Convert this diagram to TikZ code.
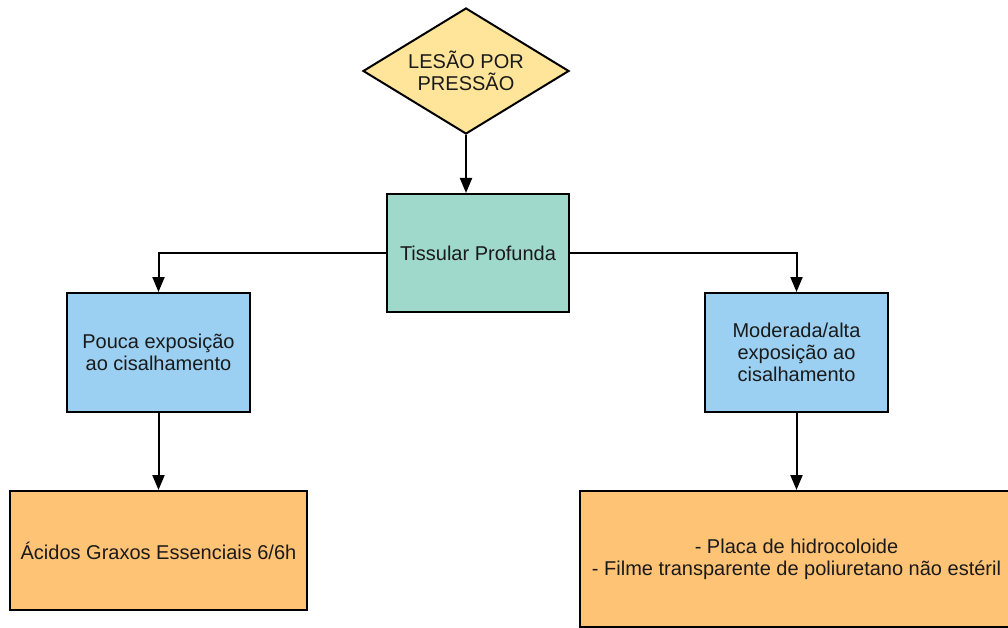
\documentclass[tikz,border=0pt]{standalone}
\usepackage{fontspec}
\setmainfont{Liberation Sans}
\usetikzlibrary{shapes.geometric,arrows.meta}

\definecolor{lesao}{HTML}{FFE599}
\definecolor{tissular}{HTML}{9ED9CB}
\definecolor{exposicao}{HTML}{9BD0F2}
\definecolor{conduta}{HTML}{FFC376}
\definecolor{texto}{HTML}{1A1A1A}

\begin{document}
\begin{tikzpicture}[x=1pt, y=1pt, line width=2pt, >={Triangle[length=15pt,width=12pt]},
    main/.style = {draw, rectangle, inner sep=0pt, align=center, text=texto, font=\fontsize{20}{22}\selectfont}]
      \clip (0,0) rectangle (1008,-628);
      \node[main, diamond, fill=lesao, minimum width=206pt, minimum height=126pt, aspect=1.63] (1) at (466,-71) {LESÃO POR\\PRESSÃO};
      \node[main, fill=tissular, minimum width=182pt, minimum height=118pt] (2) [node distance=182pt, below of=1, xshift=12pt] {Tissular Profunda};
      \node[main, fill=exposicao, minimum width=183pt, minimum height=119pt] (3) [node distance=99.5pt, below of=2, xshift=-319.5pt] {Pouca exposição\\ao cisalhamento};
      \node[main, fill=exposicao, minimum width=183pt, minimum height=119pt] (4) [node distance=99.5pt, below of=2, xshift=318.5pt] {Moderada/alta\\exposição ao\\cisalhamento};
      \node[main, fill=conduta, minimum width=297pt, minimum height=119pt] (5) [node distance=198pt, below of=3] {Ácidos Graxos Essenciais 6/6h};
      \node[main, fill=conduta, minimum width=434pt, minimum height=136pt] (6) [node distance=206.5pt, below of=4] {- Placa de hidrocoloide\\- Filme transparente de poliuretano não estéril};

      \draw[->] (1) -- (1 |- 2.north);
      \draw[->] (2) -| (3);
      \draw[->] (2) -| (4);
      \draw[->] (3) -- (5);
      \draw[->] (4) -- (4 |- 6.north);
    \end{tikzpicture}
\end{document}
